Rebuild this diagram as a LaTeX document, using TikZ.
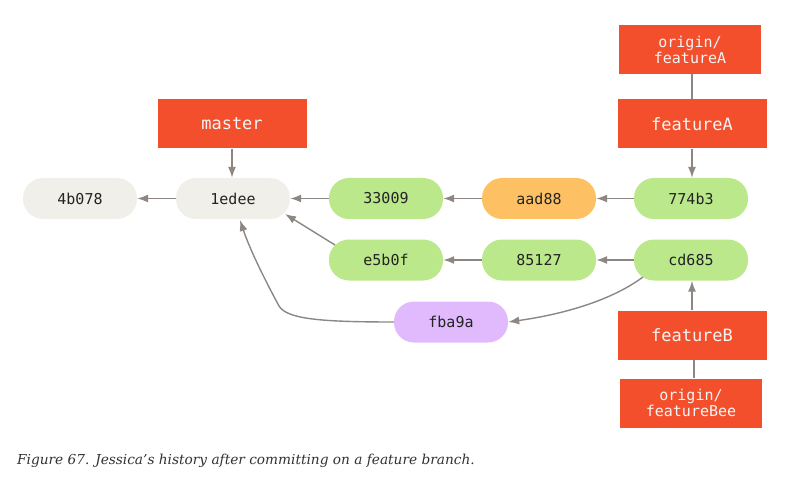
\documentclass[tikz,border=0pt]{standalone}
\usepackage{fontspec}
\setmonofont{DejaVu Sans Mono}
\newfontfamily\capfont{DejaVu Serif}
\usetikzlibrary{arrows.meta}
\definecolor{gitred}{RGB}{243,79,44}
\definecolor{cgrey}{RGB}{240,239,233}
\definecolor{cgreen}{RGB}{187,232,139}
\definecolor{corange}{RGB}{253,193,99}
\definecolor{cpurple}{RGB}{224,186,253}
\definecolor{arrgray}{RGB}{140,135,131}
\definecolor{ctext}{RGB}{35,35,35}
\definecolor{captext}{RGB}{50,50,50}
\tikzset{
  commit/.style={rounded corners=20pt, minimum width=114pt, minimum height=41pt, inner sep=0pt,
     text=ctext, font=\ttfamily\fontsize{15}{15}\selectfont},
  branchlbl/.style={fill=gitred, minimum width=149pt, minimum height=49pt, inner sep=0pt,
     text=white!96!black, font=\ttfamily\fontsize{17}{17}\selectfont},
  originlbl/.style={fill=gitred, minimum width=142pt, minimum height=49pt, inner sep=0pt, align=center,
     text=white!96!black, font=\ttfamily\fontsize{15}{16}\selectfont},
  arr/.style={draw=arrgray, line width=1.4pt, -{Latex[length=11pt,width=8pt]}},
  plainline/.style={draw=arrgray, line width=1.4pt}
}
\begin{document}
\begin{tikzpicture}[x=1pt,y=-1pt]
\useasboundingbox (0,0) rectangle (811,481);
% commits
\node[commit, fill=cgrey] (c4b078) at (80,198.5) {4b078};
\node[commit, fill=cgrey] (c1edee) at (233,198.5) {1edee};
\node[commit, fill=cgreen] (c33009) at (386,198.5) {33009};
\node[commit, fill=corange] (caad88) at (539,198.5) {aad88};
\node[commit, fill=cgreen] (c774b3) at (691,198.5) {774b3};
\node[commit, fill=cgreen] (ce5b0f) at (386,260) {e5b0f};
\node[commit, fill=cgreen] (c85127) at (539,260) {85127};
\node[commit, fill=cgreen] (ccd685) at (691,260) {cd685};
\node[commit, fill=cpurple] (cfba9a) at (451,322) {fba9a};
% labels
\node[branchlbl] (master) at (232,124) {master};
\node[branchlbl] (featureA) at (692,124) {featureA};
\node[originlbl] (ofeatureA) at (690,49.5) {origin/\\featureA};
\node[branchlbl] (featureB) at (692,335) {featureB};
\node[originlbl] (ofeatureB) at (691,403) {origin/\\featureBee};
% free ends
\coordinate (e5s) at (335,245);
\coordinate (e5t) at (285,214);
\coordinate (cds) at (643,277);
\coordinate (fbt) at (240,220);
% connectors
\draw[arr] (c1edee) -- (c4b078);
\draw[arr] (c33009) -- (c1edee);
\draw[arr] (caad88) -- (c33009);
\draw[arr] (c774b3) -- (caad88);
\draw[arr] (c85127) -- (ce5b0f);
\draw[arr] (ccd685) -- (c85127);
\draw[arr] (e5s) -- (e5t);
\draw[arr] (cds) .. controls (612,300) and (565,314) .. (cfba9a.east);
\draw[arr] (cfba9a.west) .. controls (320,322) and (287,319) .. (279,306) .. controls (266,282) and (250,250) .. (fbt);
\draw[arr] (master.south) -- (master.south |- c1edee.north);
\draw[arr] (featureA.south) -- (featureA.south |- c774b3.north);
\draw[arr] (featureB.north) -- (featureB.north |- ccd685.south);
\draw[plainline] (featureA.north) -- (featureA.north |- ofeatureA.south);
\draw[plainline] (featureB.south) ++(2,0) coordinate (fbb) (fbb) -- (fbb |- ofeatureB.north);
% caption
\node[anchor=west, text=captext, font=\capfont\itshape\fontsize{13.7}{15}\selectfont, inner sep=0pt] (caption) at (17,461) {Figure 67. Jessica’s history after committing on a feature branch.};
\end{tikzpicture}
\end{document}
